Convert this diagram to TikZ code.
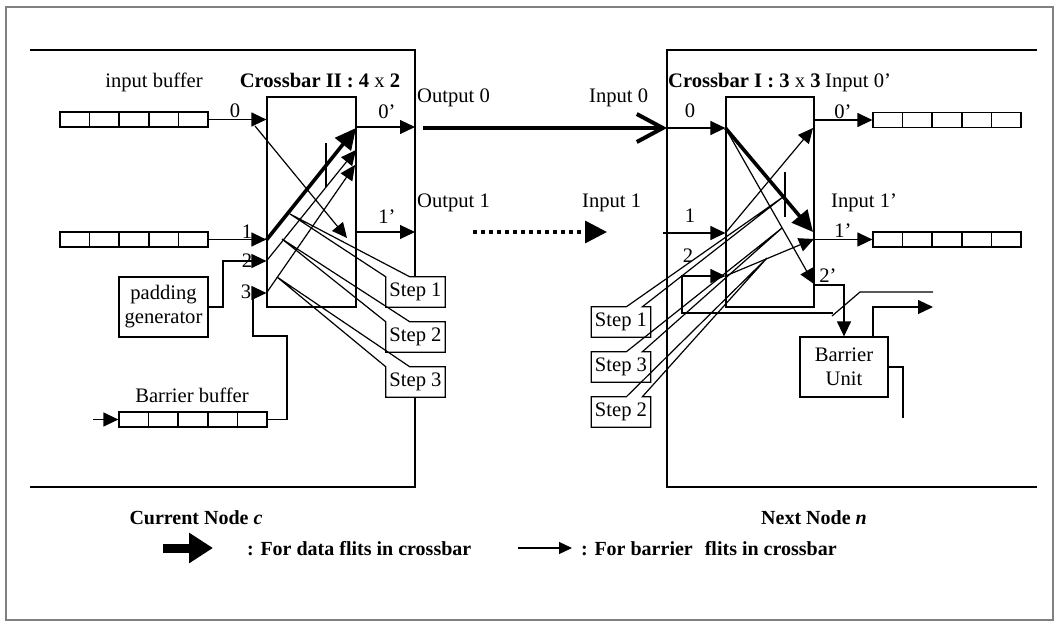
\documentclass[tikz,border=0pt]{standalone}
\usepackage{fontspec}
\setmainfont{Liberation Serif}
\usetikzlibrary{arrows.meta,calc}
\newcommand{\mybuf}[3]{%
  \node[bufbox] (#1) at (#2,#3) {};
  \foreach \k in {1,2,3,4}{\draw[line width=1.2pt] ($(#1.north west)!\k/5!(#1.north east)$) -- ($(#1.south west)!\k/5!(#1.south east)$);}
}
\begin{document}
\begin{tikzpicture}[x=1pt,y=-1pt,
  every node/.style={font=\fontsize{20.6}{24}\selectfont, inner sep=0pt},
  ln/.style={line width=1.2pt},
  arr/.style={line width=1.2pt,-{Triangle[length=15pt,width=14pt]}},
  data/.style={line width=3.6pt,-{Triangle[length=21pt,width=20pt]}},
  box/.style={draw,line width=1.2pt,fill=white,align=center},
  bufbox/.style={draw,line width=1.2pt,minimum width=148pt,minimum height=15pt},
  stepbox/.style={fill=white,minimum width=59pt,minimum height=30pt},
  lbl/.style={anchor=base},
  lblw/.style={anchor=base west}
]
\useasboundingbox (0,0) rectangle (1059,626);
% outer frame
\draw[gray, line width=1.5pt] (6,7) rectangle (1053,620);
% node boundaries
\draw[line width=1.5pt] (30,50) -- (415,50) -- (415,277);
\draw[line width=1.5pt] (415,397) -- (415,487) -- (30,487);
\draw[line width=1.5pt] (1037,50) -- (667,50) -- (667,487) -- (1037,487);

% crossbars
\node[draw,line width=1.2pt,minimum width=89pt,minimum height=210pt] (cb2) at (311.5,202) {};
\node[draw,line width=1.2pt,minimum width=88pt,minimum height=210pt] (cb1) at (770,202) {};

% buffers
\mybuf{buf0}{134}{119.5}
\mybuf{buf1}{134}{239.5}
\mybuf{bbuf}{193}{419.5}
\mybuf{rbuf0}{947}{120}
\mybuf{rbuf1}{947}{239.5}

% boxes
\node[box,minimum width=89pt,minimum height=60pt] (pad) at (163.5,307) {padding\\generator};
\node[box,minimum width=88pt,minimum height=60pt] (bu) at (844,367) {Barrier\\Unit};

% left inputs
\draw[arr] (buf0.east) -- (buf0.east -| cb2.west);
\draw[arr] (buf1.east) -- (buf1.east -| cb2.west);
\draw[arr] (pad.east) -| (223,261) -- (cb2.west |- 0,261);
\draw[arr] (bbuf.east) -- (287,419.5) -- (287,336) -- (253,336) -- (253,293) -- (cb2.west |- 0,293);
\coordinate (bbin) at (93,419.5);
\draw[arr] (bbin) -- (bbuf.west);

% left outputs
\coordinate (lo0) at (415,127);
\coordinate (lo1) at (415,232);
\draw[arr] (cb2.east |- lo0) -- (lo0);
\draw[arr] (cb2.east |- lo1) -- (lo1);

% left internal
\coordinate (x2a) at (255,126);
\coordinate (x2b) at (347,238);
\coordinate (x2c) at (356,128);
\coordinate (x2d) at (356,150);
\coordinate (x2e) at (355,165);
\draw[arr] (x2a) -- (x2b);
\draw[data] (cb2.west |- 0,240) -- (x2c);
\draw[arr] (cb2.west |- 0,261) -- (x2d);
\draw[arr] (cb2.west |- 0,293) -- (x2e);
\draw[ln] (326,143) -- (326,187);

% between nodes
\coordinate (o0) at (423,128);
\coordinate (i0) at (667,128);
\draw[line width=4pt,-{Straight Barb[length=26pt,width=28pt]}] (o0) -- (i0);
\coordinate (d0) at (473,232);
\coordinate (d1) at (607,232);
\draw[line width=3.5pt, dash pattern=on 3.5pt off 4.5pt, -{Triangle[length=22pt,width=22pt]}] (d0) -- (d1);

% right inputs
\draw[arr] (i0) -- (i0 -| cb1.west);
\coordinate (i1) at (663,233);
\draw[arr] (i1) -- (i1 -| cb1.west);
\coordinate (sw1) at (833,313);
\draw[arr] (sw1) -- (682,313) -- (682,276) -- (cb1.west |- 0,276);
\coordinate (sw2) at (832,316);
\coordinate (sw3) at (860,292);
\coordinate (sw4) at (933,292);
\draw[ln] (sw2) -- (sw3) -- (sw4);

% right outputs
\draw[arr] (cb1.east |- rbuf0.west) -- (rbuf0.west);
\draw[arr] (cb1.east |- rbuf1.west) -- (rbuf1.west);
\draw[arr] (cb1.east |- 0,285) -| (bu.north);
\coordinate (buo) at (933,307);
\draw[arr] ([xshift=29pt]bu.north) |- (buo);
\coordinate (bur) at (903,418);
\draw[ln] (bu.east) -| (bur);

% right internal
\coordinate (x1a) at (813,232);
\coordinate (x1b) at (814,284);
\coordinate (x1c) at (813,128);
\coordinate (x1d) at (814,239);
\draw[data] (cb1.west |- 0,128) -- (x1a);
\draw[arr] (cb1.west |- 0,128) -- (x1b);
\draw[arr] (cb1.west |- 0,233) -- (x1c);
\draw[arr] (cb1.west |- 0,276) -- (x1d);
\draw[ln] (785,172) -- (785,217);

% step callouts left
\node[stepbox] (s1) at (415.5,292) {Step 1};
\node[stepbox] (s2) at (415.5,337) {Step 2};
\node[stepbox] (s3) at (415.5,382) {Step 3};
\coordinate (t1) at (290,214);
\coordinate (t2) at (282,239);
\coordinate (t3) at (277,277);
\foreach \s/\t in {s1/t1,s2/t2,s3/t3}{
  \draw[ln] (\s.north west) -- (\t) -- ([xshift=24pt]\s.north west) -- (\s.north east) -- (\s.south east) -- (\s.south west) -- cycle;
}
% step callouts right
\node[stepbox] (r1) at (621,322) {Step 1};
\node[stepbox] (r3) at (621,367) {Step 3};
\node[stepbox] (r2) at (621,412) {Step 2};
\coordinate (rt1) at (783,197);
\coordinate (rt3) at (782,228);
\coordinate (rt2) at (767,258);
\foreach \s/\t in {r1/rt1,r3/rt3,r2/rt2}{
  \draw[ln] (\s.north west) -- ([xshift=35pt]\s.north west) -- (\t) -- ([xshift=51pt]\s.north west) -- (\s.north east) -- (\s.south east) -- (\s.south west) -- cycle;
}

% labels
\node[lbl] (Lib) at (154,87) {input buffer};
\node[lbl] (Lcb2) at (320,87) {\textbf{Crossbar II : 4} x \textbf{2}};
\node[lbl] (L0) at (235,117) {0};
\node[lbl] (L1) at (247,238) {1};
\node[lbl] (L2) at (247,267) {2};
\node[lbl] (L3) at (246,298) {3};
\node[lbl] (L0p) at (387,118) {0’};
\node[lbl] (L1p) at (387,223) {1’};
\node[lblw] (Lout0) at (417,102) {Output 0};
\node[lblw] (Lout1) at (417,207) {Output 1};
\node[lblw] (Lin0) at (589,102) {Input 0};
\node[lblw] (Lin1) at (582,207) {Input 1};
\node[lblw] (Lcb1) at (668,87) {\textbf{Crossbar I : 3} x \textbf{3}};
\node[lblw] (Lin0p) at (825,87) {Input 0’};
\node[lbl] (R0) at (690,117) {0};
\node[lbl] (R1) at (690,222) {1};
\node[lbl] (R2) at (688,262) {2};
\node[lbl] (R0p) at (843,118) {0’};
\node[lblw] (Lin1p) at (831,207) {Input 1’};
\node[lbl] (R1p) at (843,237) {1’};
\node[lbl] (R2p) at (828,282) {2’};
\node[lbl] (Lbb) at (192,402) {Barrier buffer};
\node[lbl,font=\fontsize{20}{24}\selectfont] (Lcur) at (196,524) {\textbf{Current Node \textit{c}}};
\node[lbl,font=\fontsize{20}{24}\selectfont] (Lnext) at (814,524) {\textbf{Next Node \textit{n}}};

% legend
\coordinate (lg1) at (163,548);
\coordinate (lg2) at (213,548);
\draw[line width=9pt,-{Triangle[length=24pt,width=29pt]}] (lg1) -- (lg2);
\node[lblw,font=\fontsize{20}{24}\selectfont] (Lg1) at (247,555) {\textbf{: For data flits in crossbar}};
\coordinate (lg3) at (518,548);
\coordinate (lg4) at (572,548);
\draw[line width=1.2pt,-{Triangle[length=13pt,width=12pt]}] (lg3) -- (lg4);
\node[lblw,font=\fontsize{20}{24}\selectfont] (Lg2) at (581,555) {\textbf{: For barrier\hspace{0.6em}flits in crossbar}};
\end{tikzpicture}
\end{document}
